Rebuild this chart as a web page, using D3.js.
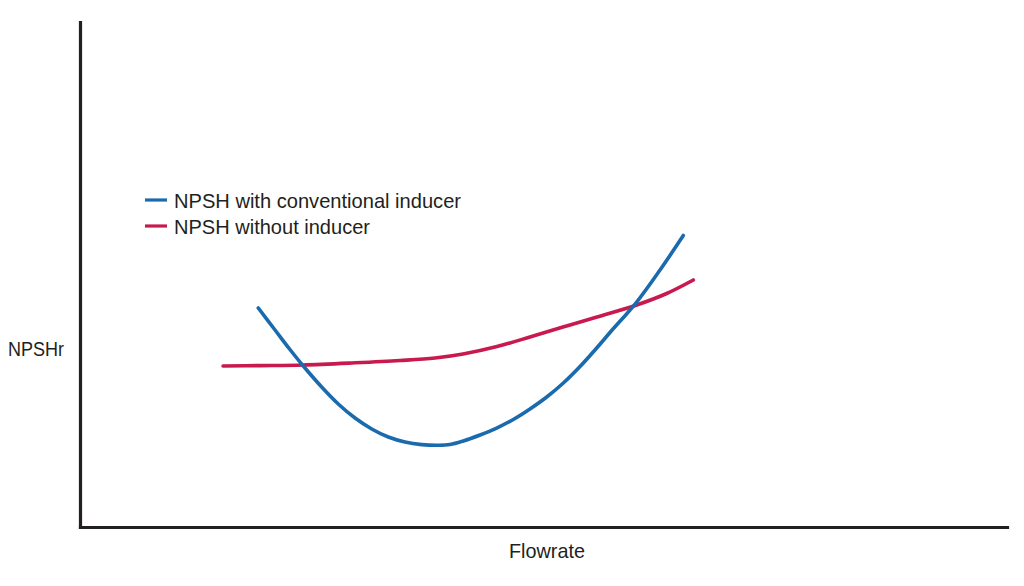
<!DOCTYPE html>
<html><head><meta charset="utf-8">
<script src="https://cdn.jsdelivr.net/npm/d3@7"></script>
<style>
html,body{margin:0;padding:0;background:#fff;}
text{font-family:"Liberation Sans",Arial,sans-serif;fill:#231f20;}
</style></head>
<body>
<svg id="c" width="1024" height="586"></svg>
<script>
const seriesNames = ["NPSH with conventional inducer", "NPSH without inducer"];
const seriesColors = ["#1a6aae", "#c81a4e"];
const withInducerX = [19.23, 21.04, 22.65, 24.09, 26.07, 27.86, 29.67, 31.47, 33.26, 35.06, 36.86, 38.62, 39.91, 41.35, 43.15, 44.95, 46.74, 48.54, 50.35, 52.14, 53.94, 55.74, 57.17, 60.05, 62.57, 65.08];
const withInducerY = [43.37, 39.01, 35.15, 31.88, 27.72, 24.36, 21.58, 19.41, 17.82, 16.83, 16.32, 16.18, 16.32, 17.03, 18.22, 19.60, 21.29, 23.37, 25.74, 28.51, 31.78, 35.45, 38.51, 44.55, 50.89, 57.72];
const withoutInducerX = [15.43, 19.42, 24.06, 29.67, 34.52, 38.30, 41.32, 44.98, 48.54, 52.10, 55.77, 60.05, 63.29, 66.16];
const withoutInducerY = [31.88, 31.96, 32.08, 32.51, 32.97, 33.47, 34.26, 35.74, 37.62, 39.60, 41.58, 43.96, 46.24, 48.91];
const xLabel = "Flowrate";
const yLabel = "NPSHr";

const svg = d3.select("#c");
const m = {left: 80, right: 1007, top: 22, bottom: 527};
const x = d3.scaleLinear().domain([0, 100]).range([m.left, m.right]);
const y = d3.scaleLinear().domain([0, 100]).range([m.bottom, m.top]);

const series = [
  withInducerX.map((v, i) => [v, withInducerY[i]]),
  withoutInducerX.map((v, i) => [v, withoutInducerY[i]])
];

const line = d3.line().x(d => x(d[0])).y(d => y(d[1])).curve(d3.curveCatmullRom.alpha(0.5));

[1, 0].forEach(i => {
  svg.append("path").datum(series[i])
    .attr("d", line).attr("fill", "none")
    .attr("stroke", seriesColors[i]).attr("stroke-width", 3.6)
    .attr("stroke-linecap", "round").attr("stroke-linejoin", "round");
});

const xAxis = d3.axisBottom(x).tickValues([]).tickSizeOuter(0);
const yAxis = d3.axisLeft(y).tickValues([]).tickSizeOuter(0);
const gx = svg.append("g").attr("transform", `translate(0,${m.bottom})`).call(xAxis);
const gy = svg.append("g").attr("transform", `translate(${m.left},0)`).call(yAxis);
[gx, gy].forEach(g => g.select(".domain").attr("stroke", "#231f20").attr("stroke-width", 3.2).attr("stroke-linecap", "square"));

svg.append("text").attr("x", 509).attr("y", 558).attr("font-size", 21)
  .attr("textLength", 76).attr("lengthAdjust", "spacingAndGlyphs").text(xLabel);
svg.append("text").attr("x", 8).attr("y", 356).attr("font-size", 21)
  .attr("textLength", 56).attr("lengthAdjust", "spacingAndGlyphs").text(yLabel);

const legLens = [287, 196];
const leg = svg.append("g");
seriesNames.forEach((n, i) => {
  const yy = 200 + i * 26;
  leg.append("line").attr("x1", 145).attr("x2", 167).attr("y1", yy).attr("y2", yy)
    .attr("stroke", seriesColors[i]).attr("stroke-width", 3.2);
  leg.append("text").attr("x", 174).attr("y", yy + 8).attr("font-size", 21)
    .attr("textLength", legLens[i]).attr("lengthAdjust", "spacingAndGlyphs").text(n);
});
</script>
</body></html>
